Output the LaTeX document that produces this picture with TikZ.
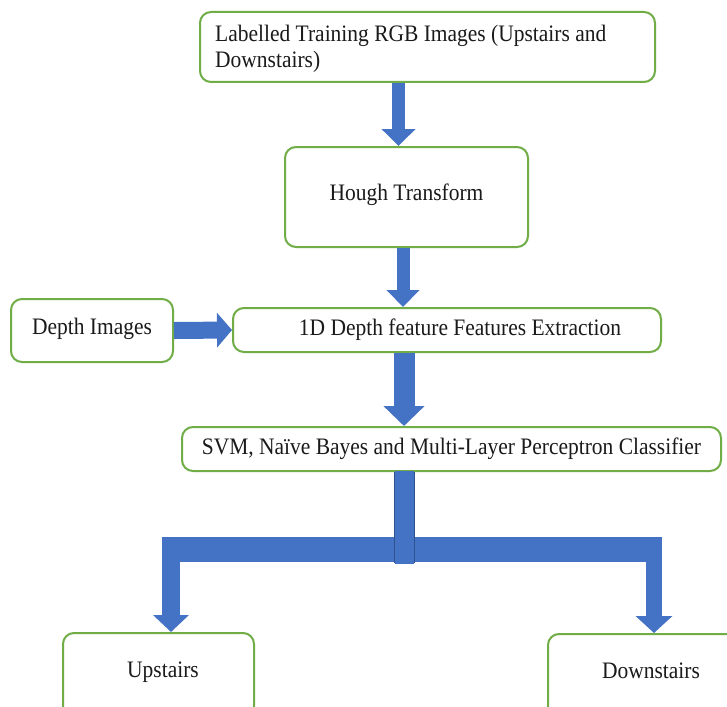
\documentclass[tikz,border=0pt]{standalone}
\usepackage{fontspec}
\setmainfont{Liberation Serif}[FakeStretch=0.91]
\usetikzlibrary{arrows.meta}
\definecolor{boxgreen}{HTML}{70AD47}
\definecolor{arrblue}{HTML}{4472C4}
\definecolor{arredge}{HTML}{2F528F}
\definecolor{txt}{HTML}{1A1A1A}
\begin{document}
\begin{tikzpicture}[x=1pt,y=-1pt,
  font=\fontsize{23.6}{26}\selectfont,
  box/.style={draw=boxgreen, line width=2pt, rounded corners=11pt, fill=white, inner sep=0pt, text=txt},
  blockarrow/.style n args={3}{draw=arrblue, line width=#1, -{Triangle[width=#2, length=#3, fill=arrblue]}}]
\clip (0,0) rectangle (727,706);
\fill[white] (0,0) rectangle (727,706);
% boxes
\node[box, minimum width=455pt, minimum height=70pt] (train) at (427.5,47) {};
\node[inner sep=0pt, text=txt, align=left, anchor=base west] (traintext) at (215,68)
  {Labelled Training RGB Images (Upstairs and\\Downstairs)};
\node[box, minimum width=243pt, minimum height=100pt] (hough) at (406.5,197) {\raisebox{10pt}{Hough Transform}};
\node[box, minimum width=162pt, minimum height=63pt] (depth) at (92,330.5) {\raisebox{9pt}{Depth Images}};
\node[box, minimum width=428pt, minimum height=44pt] (feat) at (447,330) {\hspace*{26pt}\raisebox{1pt}{1D Depth feature Features Extraction}};
\node[box, minimum width=539pt, minimum height=44pt] (svm) at (451.5,449) {\raisebox{-1pt}{SVM, Naïve Bayes and Multi-Layer Perceptron Classifier}};
\node[box, minimum width=191pt, minimum height=84pt, anchor=north] (up) at (158.5,632) {\hspace*{9pt}\raisebox{11pt}{Upstairs}};
\node[box, minimum width=192pt, minimum height=84pt, anchor=north] (down) at (644,633) {\hspace*{14pt}\raisebox{11pt}{Downstairs}};
% arrows
\draw[blockarrow={13pt}{33pt}{17pt}] ([xshift=-29pt]train.south) -- ([xshift=-8pt]hough.north);
\draw[blockarrow={13pt}{32pt}{17pt}] ([xshift=-3.5pt]hough.south) -- ([xshift=-44pt]feat.north);
\draw[blockarrow={17pt}{34pt}{15pt}] (depth.east) -- (feat.west);
\draw[blockarrow={21pt}{40pt}{20pt}] ([xshift=-43pt]feat.south) -- ([xshift=-47.5pt]svm.north);
% branch
\coordinate (barL) at (162,537);
\coordinate (barR) at (662,562);
\coordinate (junc) at (404,563);
\coordinate (dl) at (171,555);
\coordinate (dr) at (654,555);
\fill[arrblue] (barL) rectangle (barR);
\draw[blockarrow={18pt}{35pt}{17pt}] (dl) -- (dl |- up.north);
\draw[blockarrow={16pt}{36pt}{17pt}] (dr) -- (dr |- down.north);
\draw[arredge, line width=21pt] ([xshift=-47.5pt]svm.south) -- (junc);
\draw[arrblue, line width=19pt] ([xshift=-47.5pt,yshift=1pt]svm.south) -- ([yshift=-1pt]junc);
\end{tikzpicture}
\end{document}
